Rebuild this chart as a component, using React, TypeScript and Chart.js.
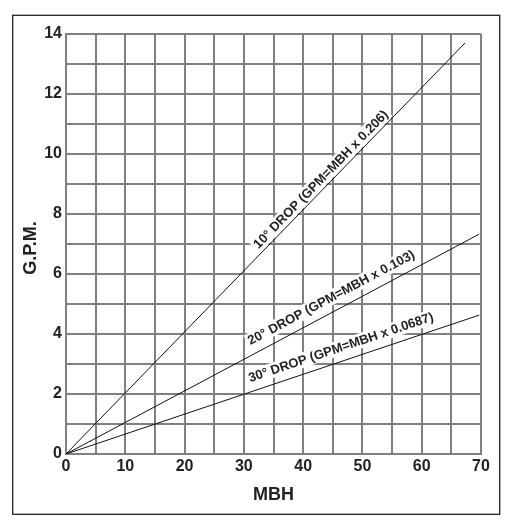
import React, { useEffect, useRef } from "react";
import { Chart, registerables } from "chart.js";

Chart.register(...registerables);

const drop10X = [0, 67.3];
const drop10Y = [0, 13.7];
const drop20X = [0, 69.7];
const drop20Y = [0, 7.33];
const drop30X = [0, 69.7];
const drop30Y = [0, 4.63];

const lineLabels = [
  "10° DROP (GPM=MBH x 0.206)",
  "20° DROP (GPM=MBH x 0.103)",
  "30° DROP (GPM=MBH x 0.0687)",
];
const labelAtX = [44, 45.8, 47.1];
const labelOffset = [8, 13, 13];

const xTitle = "MBH";
const yTitle = "G.P.M.";

const toPts = (xs: number[], ys: number[]) => xs.map((x, i) => ({ x, y: ys[i] }));

const FONT = "'Liberation Sans', Arial, sans-serif";
const GRID = "#808080";

export default function App() {
  const ref = useRef<HTMLCanvasElement | null>(null);

  useEffect(() => {
    if (!ref.current) return;

    const framePlugin = {
      id: "frame",
      beforeDraw(chart: any) {
        const ctx = chart.ctx;
        ctx.save();
        ctx.fillStyle = "#fff";
        ctx.fillRect(0, 0, chart.width, chart.height);
        ctx.strokeStyle = "#222";
        ctx.lineWidth = 1.3;
        ctx.strokeRect(4.7, 7.3, 487, 499);
        ctx.restore();
      },
      afterDraw(chart: any) {
        const ctx = chart.ctx;
        const a = chart.chartArea;
        ctx.save();
        ctx.fillStyle = "#222";
        ctx.font = `bold 18px ${FONT}`;
        ctx.textAlign = "center";
        ctx.textBaseline = "middle";
        ctx.fillText(xTitle, (a.left + a.right) / 2, 487.5);
        ctx.translate(23, 240);
        ctx.rotate(-Math.PI / 2);
        ctx.fillText(yTitle, 0, 0);
        ctx.restore();
      },
      afterDatasetsDraw(chart: any) {
        const ctx = chart.ctx;
        const xs = chart.scales.x;
        const ys = chart.scales.y;
        ctx.save();
        ctx.font = `bold 13px ${FONT}`;
        chart.data.datasets.forEach((ds: any, i: number) => {
          const p0 = ds.data[0];
          const p1 = ds.data[ds.data.length - 1];
          const x0 = xs.getPixelForValue(p0.x);
          const y0 = ys.getPixelForValue(p0.y);
          const x1 = xs.getPixelForValue(p1.x);
          const y1 = ys.getPixelForValue(p1.y);
          const ang = Math.atan2(y1 - y0, x1 - x0);
          const t = (labelAtX[i] - p0.x) / (p1.x - p0.x);
          const fx = x0 + (x1 - x0) * t;
          const fy = y0 + (y1 - y0) * t;
          const d = labelOffset[i];
          const cx = fx + Math.sin(ang) * d;
          const cy = fy - Math.cos(ang) * d;
          const text = lineLabels[i];
          const w = ctx.measureText(text).width;
          ctx.save();
          ctx.translate(cx, cy);
          ctx.rotate(ang);
          ctx.fillStyle = "#fff";
          ctx.fillRect(-w / 2 - 2, -8, w + 4, 15);
          ctx.fillStyle = "#222";
          ctx.textAlign = "center";
          ctx.textBaseline = "middle";
          ctx.fillText(text, 0, 0);
          ctx.restore();
        });
        ctx.restore();
      },
    };

    const mk = (xs: number[], ys: number[]) => ({
      data: toPts(xs, ys),
      borderColor: "#111",
      borderWidth: 1,
      pointRadius: 0,
      fill: false,
      tension: 0,
    });

    const chart = new Chart(ref.current, {
      type: "line",
      data: {
        datasets: [mk(drop10X, drop10Y), mk(drop20X, drop20Y), mk(drop30X, drop30Y)],
      },
      options: {
        animation: false,
        responsive: true,
        maintainAspectRatio: false,
        layout: { padding: { top: 26, right: 24, left: 0, bottom: 0 } },
        plugins: { legend: { display: false }, tooltip: { enabled: false } },
        scales: {
          x: {
            type: "linear",
            min: 0,
            max: 70,
            afterFit: (s: any) => {
              s.height = 62;
            },
            ticks: {
              stepSize: 5,
              autoSkip: false,
              maxRotation: 0,
              padding: 3,
              color: "#222",
              font: { family: FONT, size: 16, weight: "bold" },
              callback: (v: any) => (Number(v) % 10 === 0 ? String(v) : ""),
            },
            grid: { color: GRID, lineWidth: 2, drawTicks: false },
            border: { display: true, color: GRID, width: 2 },
          },
          y: {
            type: "linear",
            min: 0,
            max: 14,
            afterFit: (s: any) => {
              s.width = 58;
            },
            ticks: {
              stepSize: 1,
              autoSkip: false,
              padding: 4,
              color: "#222",
              font: { family: FONT, size: 16, weight: "bold" },
              callback: (v: any) => (Number(v) % 2 === 0 ? String(v) : ""),
            },
            grid: { color: GRID, lineWidth: 2, drawTicks: false },
            border: { display: true, color: GRID, width: 2 },
          },
        },
      },
      plugins: [framePlugin],
    } as any);

    return () => chart.destroy();
  }, []);

  return (
    <div style={{ width: 497, height: 508, position: "relative" }}>
      <canvas ref={ref} />
    </div>
  );
}
